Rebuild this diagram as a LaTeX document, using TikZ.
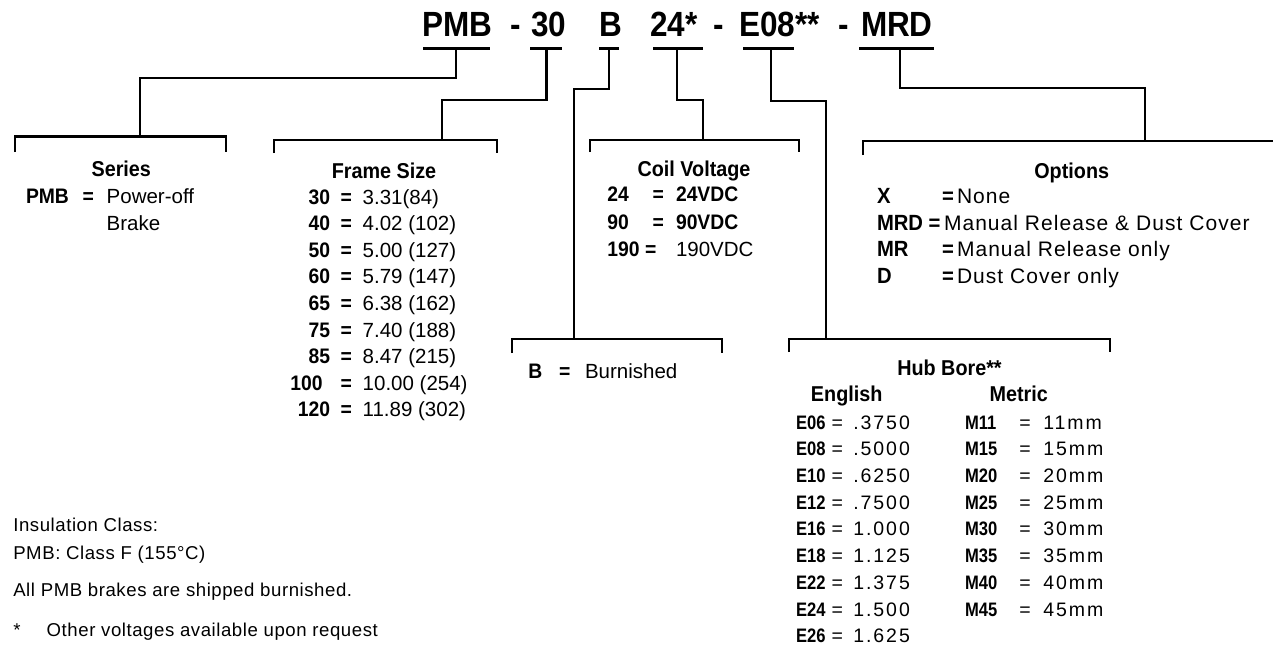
\documentclass[tikz,border=0pt]{standalone}
\usepackage{fontspec}
\setmainfont{Liberation Sans}
\newfontfamily\ttlfont{Liberation Sans}[FakeStretch=0.9]
\newfontfamily\bcfont{Liberation Sans}[FakeStretch=0.92]
\newfontfamily\bnfont{Liberation Sans}[FakeStretch=0.85]
\newfontfamily\rgwide{Liberation Sans}[LetterSpace=5]
\newfontfamily\rghub{Liberation Sans}[LetterSpace=10]
\newfontfamily\rgnote{Liberation Sans}[LetterSpace=3]
\begin{document}
\begin{tikzpicture}[x=1pt,y=-1pt,
  ln/.style={line width=2.2pt, line join=miter},
  tx/.style={anchor=base west, inner sep=0pt, outer sep=0pt},
  txc/.style={anchor=base, inner sep=0pt, outer sep=0pt},
  txe/.style={anchor=base east, inner sep=0pt, outer sep=0pt},
  ttl/.style={font=\ttlfont\bfseries\fontsize{35}{35}\selectfont},
  hd/.style={font=\bcfont\bfseries\fontsize{21.5}{21.5}\selectfont},
  bb/.style={font=\bcfont\bfseries\fontsize{21}{21}\selectfont},
  rr/.style={font=\fontsize{20.5}{20.5}\selectfont},
  ob/.style={font=\bcfont\bfseries\fontsize{22}{22}\selectfont},
  orr/.style={font=\rgwide\fontsize{21}{21}\selectfont},
  hb/.style={font=\bnfont\bfseries\fontsize{19.5}{19.5}\selectfont},
  hr/.style={font=\rghub\fontsize{19.5}{19.5}\selectfont},
  nt/.style={font=\rgnote\fontsize{18.6}{18.6}\selectfont}]
\fill[white] (0,0) rectangle (1273,645);
\useasboundingbox (0,0) rectangle (1273,645);

% ---------- title ----------
\node[tx,ttl] (tPMB) at (422,36.5) {PMB};
\node[tx,ttl] (tD1)  at (510,36.5) {-};
\node[tx,ttl] (t30)  at (531,36.5) {30};
\node[tx,ttl] (tB)   at (599.5,36.5) {B};
\node[tx,ttl] (t24)  at (650,36.5) {24*};
\node[tx,ttl] (tD2)  at (713,36.5) {-};
\node[tx,ttl] (tE08) at (739,36.5) {E08**};
\node[tx,ttl] (tD3)  at (838,36.5) {-};
\node[tx,ttl] (tMRD) at (861,36.5) {MRD};

% underlines
\draw[ln] (423,48.5) -- (490,48.5);
\draw[ln] (530,48.5) -- (562,48.5);
\draw[ln] (599,48.5) -- (619,48.5);
\draw[ln] (653,48.5) -- (703,48.5);
\draw[ln] (743,48.5) -- (794,48.5);
\draw[ln] (859,48.5) -- (934,48.5);

\coordinate (uPMB) at (456,48.5);
\coordinate (u30)  at (546.5,48.5);
\coordinate (uB)   at (609,48.5);
\coordinate (u24)  at (677,48.5);
\coordinate (uE08) at (771,48.5);
\coordinate (uMRD) at (900,48.5);

% bracket junctions
\coordinate (jS) at (140,136.5);
\coordinate (jF) at (442,140);
\coordinate (jC) at (702.7,140);
\coordinate (jB) at (574,339);
\coordinate (jH) at (826,339);
\coordinate (jO) at (1145,141);

% brackets
\draw[ln] (15,152) |- (226,136.5) -- (226,152);
\draw[ln] (274,153) |- (497,140) -- (497,153);
\draw[ln] (590,152) |- (799,140) -- (799,152);
\draw[ln] (512,353) |- (722,339) -- (722,353);
\draw[ln] (789,352) |- (1110,339) -- (1110,352);
\draw[ln] (863,155) |- (1274,141);

% connectors
\draw[ln] (uPMB) -- ++(0,29.8) -| (jS);
\draw[ln] (u30)  -- ++(0,51.5) -| (jF);
\draw[ln] (uB)   -- ++(0,40.5) -| (jB);
\draw[ln] (u24)  -- ++(0,51.5) -| (jC);
\draw[ln] (uE08) -- ++(0,52.5) -| (jH);
\draw[ln] (uMRD) -- ++(0,39.8) -| (jO);

% ---------- Series ----------
\node[txc,hd] (sH) at (121.3,176) {Series};
\node[tx,bb] (sK) at (26,203.3) {PMB};
\node[tx,bb] (sE) at (82.7,203.3) {=};
\node[tx,rr] (sV1) at (106.7,203.3) {Power-off};
\node[tx,rr] (sV2) at (106.7,230) {Brake};

% ---------- Frame Size ----------
\node[txc,hd] (fH) at (384,178.3) {Frame Size};
\foreach \k/\v/\xr [count=\i from 0] in {30/3.31(84)/330, 40/4.02 (102)/330, 50/5.00 (127)/330, 60/5.79 (147)/330, 65/6.38 (162)/330, 75/7.40 (188)/330, 85/8.47 (215)/330, 100/10.00 (254)/322.7, 120/11.89 (302)/330}{
  \node[txe,bb] (fk\i) at (\xr,{204.3+26.55*\i}) {\k};
  \node[tx,bb]  (fe\i) at (340.7,{204.3+26.55*\i}) {=};
  \node[tx,rr]  (fv\i) at (362.7,{204.3+26.55*\i}) {\v};
}

% ---------- Coil Voltage ----------
\node[txc,hd] (cH) at (694,176) {Coil Voltage};
\node[tx,bb] (ck1) at (607.3,201.7) {24};
\node[tx,bb] (ce1) at (652.7,201.7) {=};
\node[tx,bb] (cv1) at (676,201.7) {24VDC};
\node[tx,bb] (ck2) at (607.3,229.3) {90};
\node[tx,bb] (ce2) at (652.7,229.3) {=};
\node[tx,bb] (cv2) at (676,229.3) {90VDC};
\node[tx,bb] (ck3) at (607.3,256) {190};
\node[tx,bb] (ce3) at (645,256) {=};
\node[tx,rr] (cv3) at (676,256) {190VDC};

% ---------- Burnished ----------
\node[tx,bb] (bK) at (528.3,378) {B};
\node[tx,bb] (bE) at (559,378) {=};
\node[tx,rr] (bV) at (585,378) {Burnished};

% ---------- Options ----------
\node[txc,hd] (oH) at (1071.7,178.3) {Options};
\node[tx,ob] (ok1) at (877,203.5) {X};
\node[tx,ob] (oe1) at (942,203.5) {=};
\node[tx,orr] (ov1) at (957,203.5) {None};
\node[tx,ob] (ok2) at (877,230) {MRD};
\node[tx,ob] (oe2) at (928.5,230) {=};
\node[tx,orr] (ov2) at (944,230) {Manual Release \& Dust Cover};
\node[tx,ob] (ok3) at (877,256.5) {MR};
\node[tx,ob] (oe3) at (942,256.5) {=};
\node[tx,orr] (ov3) at (957,256.5) {Manual Release only};
\node[tx,ob] (ok4) at (877,283) {D};
\node[tx,ob] (oe4) at (942,283) {=};
\node[tx,orr] (ov4) at (957,283) {Dust Cover only};

% ---------- Hub Bore ----------
\node[txc,hd] (hH) at (949.5,375) {Hub Bore**};
\node[txc,hd] (hEn) at (846.7,401.7) {English};
\node[txc,hd] (hMe) at (1018.8,401.7) {Metric};
\foreach \k/\v [count=\i from 0] in {E06/.3750, E08/.5000, E10/.6250, E12/.7500, E16/1.000, E18/1.125, E22/1.375, E24/1.500, E26/1.625}{
  \node[tx,hb] (ek\i) at (796,{429.3+26.67*\i}) {\k};
  \node[tx,hr] (ee\i) at (831.7,{429.3+26.67*\i}) {=};
  \node[tx,hr] (ev\i) at (853.3,{429.3+26.67*\i}) {\v};
}
\foreach \k/\v [count=\i from 0] in {M11/11mm, M15/15mm, M20/20mm, M25/25mm, M30/30mm, M35/35mm, M40/40mm, M45/45mm}{
  \node[tx,hb] (mk\i) at (965,{429.3+26.67*\i}) {\k};
  \node[tx,hr] (me\i) at (1019.3,{429.3+26.67*\i}) {=};
  \node[tx,hr] (mv\i) at (1043.3,{429.3+26.67*\i}) {\v};
}

% ---------- notes ----------
\node[tx,nt] (n1) at (13.3,531.7) {Insulation Class:};
\node[tx,nt] (n2) at (13.3,559.3) {PMB: Class F (155°C)};
\node[tx,nt] (n3) at (13.3,596.7) {All PMB brakes are shipped burnished.};
\node[tx,nt] (n4a) at (13.3,636.7) {*};
\node[tx,nt] (n4b) at (46.7,636.7) {Other voltages available upon request};
\end{tikzpicture}
\end{document}
